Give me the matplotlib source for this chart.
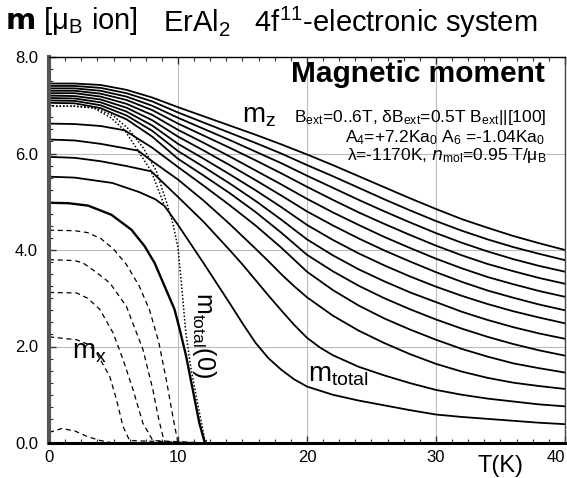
import matplotlib.pyplot as plt
from matplotlib.ticker import MultipleLocator

plt.rcParams['font.family'] = ['Liberation Sans', 'DejaVu Sans']
plt.rcParams['mathtext.default'] = 'regular'

# m_total = m_z, fields in the aligned phase (bottom to top)
T_up = [0, 2, 4, 6, 8, 10, 12, 14, 16, 18, 20, 22, 24, 26, 28, 30, 32, 34, 36, 38, 40]
m_up = [
    [7.05, 7.04, 6.94, 6.71, 6.35, 5.89, 5.54, 5.18, 4.79, 4.36, 3.90, 3.56, 3.26, 3.00, 2.77, 2.56, 2.37, 2.20, 2.05, 1.92, 1.81],
    [7.10, 7.09, 7.00, 6.79, 6.47, 6.05, 5.72, 5.38, 5.02, 4.63, 4.22, 3.89, 3.60, 3.35, 3.12, 2.92, 2.72, 2.55, 2.40, 2.27, 2.16],
    [7.15, 7.14, 7.06, 6.87, 6.58, 6.20, 5.89, 5.57, 5.24, 4.89, 4.52, 4.21, 3.93, 3.68, 3.45, 3.24, 3.05, 2.88, 2.73, 2.60, 2.48],
    [7.20, 7.19, 7.12, 6.95, 6.69, 6.35, 6.06, 5.76, 5.45, 5.13, 4.80, 4.51, 4.24, 3.99, 3.76, 3.54, 3.34, 3.16, 3.01, 2.87, 2.75],
    [7.25, 7.25, 7.18, 7.03, 6.80, 6.49, 6.22, 5.94, 5.65, 5.36, 5.06, 4.78, 4.52, 4.27, 4.04, 3.82, 3.62, 3.44, 3.29, 3.15, 3.03],
    [7.30, 7.30, 7.24, 7.11, 6.90, 6.62, 6.37, 6.12, 5.86, 5.59, 5.31, 5.04, 4.78, 4.54, 4.31, 4.09, 3.89, 3.71, 3.56, 3.42, 3.30],
    [7.35, 7.35, 7.30, 7.18, 6.99, 6.74, 6.51, 6.28, 6.04, 5.80, 5.54, 5.29, 5.04, 4.80, 4.57, 4.35, 4.15, 3.97, 3.81, 3.67, 3.55],
    [7.40, 7.40, 7.36, 7.25, 7.08, 6.85, 6.64, 6.43, 6.22, 6.00, 5.76, 5.53, 5.29, 5.05, 4.82, 4.60, 4.40, 4.22, 4.06, 3.92, 3.79],
    [7.45, 7.45, 7.42, 7.32, 7.16, 6.96, 6.77, 6.58, 6.39, 6.19, 5.98, 5.76, 5.53, 5.30, 5.07, 4.85, 4.64, 4.46, 4.29, 4.14, 4.00],
]

# m_z for the canted phase: kink where m_x vanishes, then equal to m_total
T_kink = [
    [0, 2, 4.9, 7, 8.25, 8.96, 10, 11, 12, 13, 14, 15, 16, 17, 18, 19, 20, 22, 24, 26, 28, 30, 32, 34, 36, 38, 40],
    [0, 2, 4, 6, 7.93, 10, 12, 14, 15, 16, 17, 18, 19, 20, 21, 22, 24, 26, 28, 30, 32, 34, 36, 38, 40],
    [0, 2, 4, 6.9, 8, 10, 12, 14, 16, 17, 18, 19, 20, 22, 24, 26, 28, 30, 32, 34, 36, 38, 40],
    [0, 2, 4, 5.87, 8, 10, 12, 14, 16, 18, 20, 22, 24, 26, 28, 30, 32, 34, 36, 38, 40],
]
m_kink = [
    [5.52, 5.50, 5.39, 5.20, 5.05, 4.91, 4.52, 4.12, 3.72, 3.31, 2.90, 2.48, 2.08, 1.76, 1.52, 1.32, 1.17,
     1.00, 0.88, 0.78, 0.68, 0.59, 0.54, 0.50, 0.46, 0.42, 0.39],
    [5.93, 5.91, 5.84, 5.74, 5.63, 5.10, 4.58, 4.00, 3.70, 3.38, 3.06, 2.75, 2.45, 2.18, 1.98, 1.82,
     1.58, 1.40, 1.24, 1.10, 1.00, 0.92, 0.86, 0.80, 0.76],
    [6.29, 6.27, 6.20, 6.06, 5.84, 5.46, 5.02, 4.54, 4.03, 3.77, 3.50, 3.25, 3.02, 2.64, 2.33, 2.07,
     1.84, 1.64, 1.48, 1.35, 1.25, 1.18, 1.12],
    [6.62, 6.61, 6.57, 6.48, 6.12, 5.72, 5.33, 4.93, 4.51, 4.05, 3.55, 3.17, 2.85, 2.58, 2.35, 2.14,
     1.95, 1.79, 1.65, 1.55, 1.46],
]

# m_z at B = 0
T_z0 = [0, 1.5, 3.03, 4.84, 6.39, 7.41, 8.19, 8.96, 9.73, 10.1, 10.63, 11.14, 11.66, 12.05, 12.2]
m_z0 = [4.98, 4.97, 4.92, 4.73, 4.42, 4.08, 3.73, 3.25, 2.77, 2.39, 1.80, 1.11, 0.41, 0.03, 0.0]

# m_x, B = 0, 0.5, 1, 1.5, 2 T
T_mx = [
    [0, 2, 3, 4, 5, 6, 7, 7.8, 8.5, 9.1, 9.6, 10.0, 12.3],
    [0, 2, 2.65, 3.6, 4.71, 6.0, 7.28, 8.05, 8.5, 8.83, 9.0, 12.3],
    [0, 2.14, 3.0, 3.94, 4.97, 5.74, 6.51, 7.28, 8.05, 12.3],
    [0, 2.14, 3.0, 3.68, 4.71, 5.23, 5.74, 6.25, 12.3],
    [0, 1.0, 2.0, 3.0, 4.0, 5.0, 12.3],
]
m_mx = [
    [4.41, 4.40, 4.36, 4.24, 4.02, 3.70, 3.25, 2.75, 2.10, 1.30, 0.55, 0.0, 0.0],
    [3.80, 3.78, 3.73, 3.55, 3.32, 2.83, 1.94, 1.11, 0.50, 0.14, 0.0, 0.0],
    [3.12, 3.11, 3.00, 2.77, 2.28, 1.73, 1.11, 0.41, 0.05, 0.0],
    [2.20, 2.14, 2.05, 1.87, 1.38, 0.90, 0.34, 0.05, 0.0],
    [0.22, 0.30, 0.25, 0.13, 0.05, 0.0, 0.0],
]

# m_total in the canted phase, and m_total(0)
T_tot = [0, 2, 3.5, 4.8, 5.87, 6.9, 7.93, 8.96]
m_tot = [6.98, 6.98, 6.94, 6.74, 6.48, 6.06, 5.63, 4.91]
T_tot0 = [0, 2, 3.5, 5.0, 6.2, 7.3, 8.3, 9.1, 9.6, 10.0, 10.3, 10.6, 11.0, 11.5, 12.05, 12.3]
m_tot0 = [6.98, 6.98, 6.95, 6.78, 6.50, 6.12, 5.65, 5.0, 4.55, 4.05, 3.2, 2.3, 1.55, 0.85, 0.1, 0.0]

fig = plt.figure(figsize=(5.67, 4.78), dpi=100)
ax = fig.add_axes([49 / 567, 35 / 478, 516 / 567, 386 / 478])

for m in m_up:
    ax.plot(T_up, m, color='black', lw=1.3)
for t, m in zip(T_kink, m_kink):
    ax.plot(t, m, color='black', lw=1.3)
ax.plot(T_z0, m_z0, color='black', lw=1.7)
for t, m in zip(T_mx, m_mx):
    ax.plot(t, m, color='black', lw=0.9, ls=(0, (4, 3)))
ax.plot(T_tot, m_tot, color='black', lw=1.1, ls=(0, (1, 1.3)))
ax.plot(T_tot0, m_tot0, color='black', lw=1.1, ls=(0, (1, 1.3)))

ax.set_xlim(0, 40)
ax.set_ylim(0, 8)
ax.set_xticks([0, 10, 20, 30, 40])
ax.set_yticks([0, 2, 4, 6, 8])
ax.set_yticklabels(['0.0', '2.0', '4.0', '6.0', '8.0'])
ax.xaxis.set_minor_locator(MultipleLocator(1.25))
ax.yaxis.set_minor_locator(MultipleLocator(0.25))
ax.tick_params(which='both', direction='in', labelsize=12, color='#333333', top=True)
ax.tick_params(which='major', length=5, width=1)
ax.tick_params(which='minor', length=3, width=0.8)
ax.tick_params(axis='y', pad=8)
ax.tick_params(axis='x', pad=5)
ax.get_xticklabels()[-1].set_horizontalalignment('right')
ax.grid(True, which='major', color='#bbbbbb', lw=0.8)

ax.spines['left'].set_linewidth(3)
ax.spines['left'].set_color('#555555')
ax.spines['bottom'].set_linewidth(2.2)
ax.spines['top'].set_linewidth(1)
ax.spines['right'].set_linewidth(1)
ax.spines['right'].set_color('#444444')

fig.text(5 / 567, 1 - 29 / 478, r'$\mathbf{m}$ [$\mu_B$ ion]', fontsize=21)
fig.text(163 / 567, 1 - 32 / 478, r'ErAl$_2$   4f$^{11}$-electronic system', fontsize=21)
fig.text(478 / 567, 1 - 477 / 478, 'T(K)', fontsize=17, va='bottom')

ax.text(38.45, 7.94, 'Magnetic moment', fontsize=21.5, fontweight='bold', ha='right', va='top')
ax.text(15.0, 6.65, r'm$_z$', fontsize=20)
ax.text(38.6, 6.65, r'B$_{ext}$=0..6T, δB$_{ext}$=0.5T B$_{ext}$||[100]', fontsize=12.5, ha='right')
ax.text(38.5, 6.23, r'A$_4$=+7.2Ka$_0$ A$_6$ =-1.04Ka$_0$', fontsize=12.5, ha='right')
ax.text(38.6, 5.86, r'λ=-1170K, $\it{n}$$_{mol}$=0.95 T/μ$_B$', fontsize=12.5, ha='right')
ax.text(1.76, 1.76, r'm$_x$', fontsize=20)
ax.text(20.06, 1.28, r'm$_{total}$', fontsize=20)
ax.text(11.46, 3.12, r'm$_{total}$(0)', fontsize=18, rotation=270,
        rotation_mode='anchor', ha='left', va='baseline')

fig.savefig('out.png', dpi=100)
